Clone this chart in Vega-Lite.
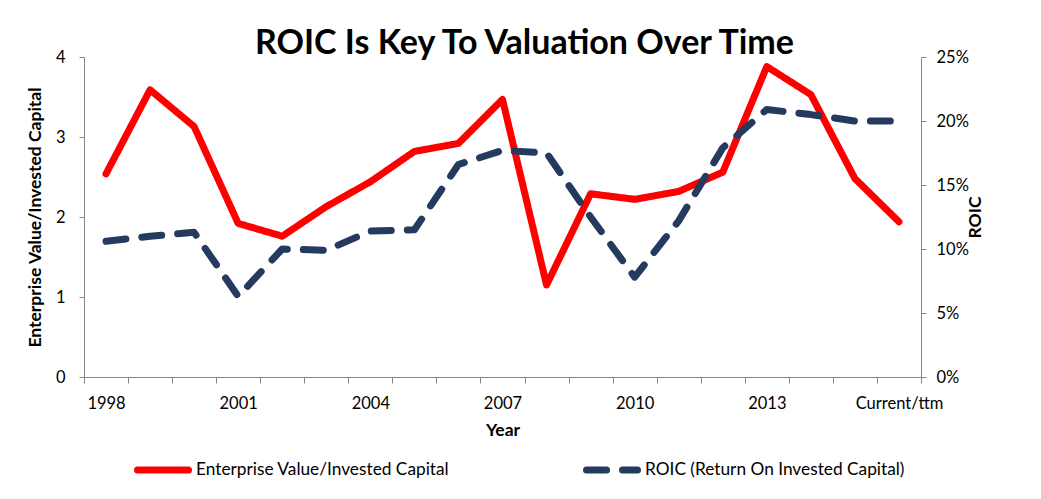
{
  "$schema": "https://vega.github.io/schema/vega-lite/v6.json",
  "autosize": "none",
  "width": 837,
  "height": 320,
  "padding": {"left": 84, "top": 57, "right": 120, "bottom": 122},
  "background": "white",
  "title": {
    "text": "ROIC Is Key To Valuation Over Time",
    "font": "Lato",
    "fontSize": 34,
    "fontWeight": "bold",
    "color": "black",
    "anchor": "middle",
    "frame": "group",
    "baseline": "alphabetic",
    "offset": 2,
    "dx": 22,
    "dy": 41
  },
  "config": {
    "view": {"stroke": null},
    "axis": {
      "domainColor": "#868686",
      "tickColor": "#868686",
      "labelColor": "black",
      "labelFont": "Lato",
      "labelFontSize": 16.5,
      "titleFont": "Lato",
      "titleFontSize": 17.5,
      "titleFontWeight": "bold",
      "titleColor": "black",
      "grid": false,
      "tickSize": 5
    },
    "legend": {
      "orient": "none",
      "legendX": 50,
      "legendY": 384,
      "direction": "horizontal",
      "symbolType": "stroke",
      "symbolSize": 2600,
      "symbolStrokeWidth": 7,
      "labelFont": "Lato",
      "labelFontSize": 17.3,
      "labelColor": "black",
      "labelOffset": 4,
      "columnPadding": 122,
      "labelLimit": 400
    }
  },
  "data": {
    "values": [
      {"year": "1998", "ev": 2.54, "roic": 0.106},
      {"year": "1999", "ev": 3.59, "roic": 0.110},
      {"year": "2000", "ev": 3.13, "roic": 0.113},
      {"year": "2001", "ev": 1.92, "roic": 0.063},
      {"year": "2002", "ev": 1.76, "roic": 0.100},
      {"year": "2003", "ev": 2.13, "roic": 0.099},
      {"year": "2004", "ev": 2.44, "roic": 0.114},
      {"year": "2005", "ev": 2.82, "roic": 0.115},
      {"year": "2006", "ev": 2.92, "roic": 0.166},
      {"year": "2007", "ev": 3.47, "roic": 0.177},
      {"year": "2008", "ev": 1.15, "roic": 0.175},
      {"year": "2009", "ev": 2.29, "roic": 0.125},
      {"year": "2010", "ev": 2.22, "roic": 0.078},
      {"year": "2011", "ev": 2.32, "roic": 0.122},
      {"year": "2012", "ev": 2.56, "roic": 0.179},
      {"year": "2013", "ev": 3.88, "roic": 0.209},
      {"year": "2014", "ev": 3.53, "roic": 0.205},
      {"year": "2015", "ev": 2.48, "roic": 0.200},
      {"year": "Current/ttm", "ev": 1.94, "roic": 0.200}
    ]
  },
  "encoding": {
    "x": {
      "field": "year",
      "type": "ordinal",
      "sort": null,
      "bandPosition": 0.5,
      "scale": {"type": "band", "paddingInner": 0, "paddingOuter": 0},
      "axis": {
        "title": "Year",
        "labelAngle": 0,
        "tickBand": "extent",
        "tickSize": 6,
        "labelPadding": 12,
        "titlePadding": 10,
        "labelExpr": "indexof(['1998','2001','2004','2007','2010','2013','Current/ttm'], datum.value) >= 0 ? datum.label : ''"
      }
    }
  },
  "layer": [
    {
      "mark": {"type": "line", "strokeWidth": 7, "strokeCap": "round", "strokeJoin": "round"},
      "encoding": {
        "y": {
          "field": "ev",
          "type": "quantitative",
          "scale": {"domain": [0, 4]},
          "axis": {
            "title": "Enterprise Value/Invested Capital",
            "orient": "left",
            "values": [0, 1, 2, 3, 4],
            "labelPadding": 14,
            "titlePadding": 11
          }
        },
        "color": {
          "datum": "Enterprise Value/Invested Capital",
          "scale": {
            "domain": ["Enterprise Value/Invested Capital", "ROIC (Return On Invested Capital)"],
            "range": ["#FF0000", "#243A5E"]
          },
          "legend": {
            "title": null,
            "symbolStrokeWidth": 7,
            "symbolSize": 2600,
            "symbolType": "stroke",
            "encode": {"symbols": {"update": {"strokeCap": {"value": "round"}}}}
          }
        },
        "strokeDash": {
          "datum": "Enterprise Value/Invested Capital",
          "scale": {
            "domain": ["Enterprise Value/Invested Capital", "ROIC (Return On Invested Capital)"],
            "range": [[1, 0], [20, 16]]
          },
          "legend": {"title": null}
        }
      }
    },
    {
      "mark": {"type": "line", "strokeWidth": 7, "strokeCap": "round", "strokeJoin": "round"},
      "encoding": {
        "y": {
          "field": "roic",
          "type": "quantitative",
          "scale": {"domain": [0, 0.25]},
          "axis": {
            "title": "ROIC",
            "orient": "right",
            "values": [0, 0.05, 0.1, 0.15, 0.2, 0.25],
            "format": ".0%",
            "labelPadding": 10,
            "titlePadding": 16,
            "titleAngle": 270
          }
        },
        "color": {"datum": "ROIC (Return On Invested Capital)"},
        "strokeDash": {"datum": "ROIC (Return On Invested Capital)"}
      }
    }
  ],
  "resolve": {"scale": {"y": "independent"}}
}
